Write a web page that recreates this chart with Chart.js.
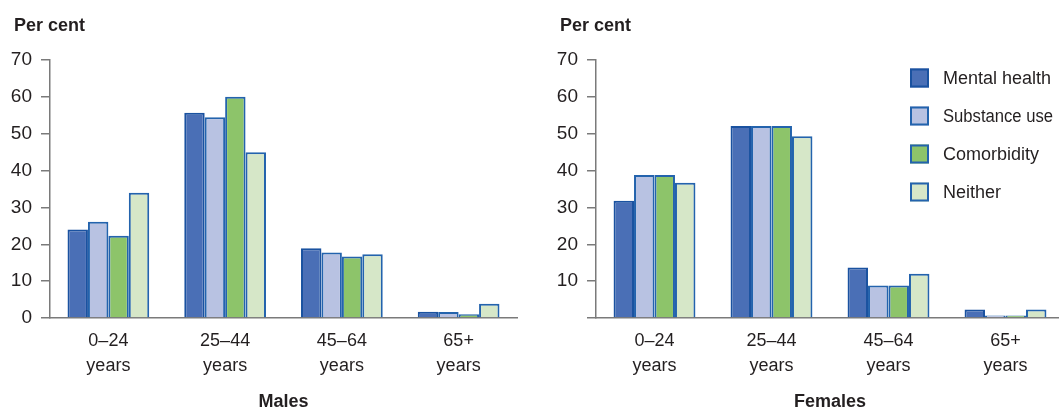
<!DOCTYPE html>
<html>
<head>
<meta charset="utf-8">
<script src="https://cdn.jsdelivr.net/npm/chart.js@4"></script>
<style>
  html, body { margin: 0; padding: 0; background: #fff; overflow: hidden; }
  #wrap { position: relative; width: 1059px; height: 409px; overflow: hidden; }
  #males { position: absolute; left: 0; top: 0; }
  #females { position: absolute; left: 530px; top: 0; }
</style>
</head>
<body>
<div id="wrap">
  <canvas id="males" width="530" height="409"></canvas>
  <canvas id="females" width="534" height="409"></canvas>
</div>
<script>
const categories = [['0–24', 'years'], ['25–44', 'years'], ['45–64', 'years'], ['65+', 'years']];
const seriesNames = ['Mental health', 'Substance use', 'Comorbidity', 'Neither'];

const malesMental = [24, 55.7, 18.9, 1.7];
const malesSubstance = [26.1, 54.5, 17.8, 1.6];
const malesComorbid = [22.3, 60, 16.7, 1];
const malesNeither = [34, 45, 17.3, 3.9];

const femalesMental = [31.8, 52.1, 13.7, 2.3];
const femalesSubstance = [38.8, 52.1, 8.8, 0.7];
const femalesComorbid = [38.8, 52.1, 8.8, 0.7];
const femalesNeither = [36.7, 49.3, 12, 2.3];

const yTicks = [0, 10, 20, 30, 40, 50, 60, 70];

const fillColors = ['#4a6fb6', '#b8c2e2', '#8dc46a', '#d6e7c8'];
const borderColors = ['#1a52a0', '#2363ad', '#2363ad', '#2363ad'];
const FONT = "'Liberation Sans Narrow', 'Liberation Sans', Arial, sans-serif";
const axisColor = '#7a7a7a';
const textColor = '#231f20';

function makeDatasets(rows) {
    return rows.map((data, i) => ({
        label: seriesNames[i],
        data: data,
        backgroundColor: fillColors[i],
        borderColor: borderColors[i],
        borderWidth: 2,
        borderSkipped: 'start',
        barPercentage: 1,
        categoryPercentage: 0.7
    }));
}

// "Per cent" label above the axis and the stacked legend on the right
const extras = {
    id: 'extras',
    afterDraw(chart, args, opts) {
        const ctx = chart.ctx;
        ctx.save();
        ctx.fillStyle = textColor;
        ctx.font = 'bold 18px ' + FONT;
        ctx.textBaseline = 'alphabetic';
        ctx.fillText('Per cent', opts.titleX, 31);

        if (opts.legend) {
            const items = chart.legend.legendItems;
            ctx.font = '18px ' + FONT;
            ctx.textBaseline = 'middle';
            items.forEach((item, i) => {
                const y = opts.legend.top + i * opts.legend.gap;
                ctx.fillStyle = item.fillStyle;
                ctx.fillRect(opts.legend.left, y - 9.5, 19, 19);
                ctx.strokeStyle = item.strokeStyle;
                ctx.lineWidth = 2;
                ctx.strokeRect(opts.legend.left + 1, y - 8.5, 17, 17);
                ctx.fillStyle = textColor;
                ctx.fillText(item.text, opts.legend.left + 33, y + 1, 110);
            });
        }
        ctx.restore();
    }
};

function makeChart(id, rows, title, leftWidth, rightPad, showZero, extraOpts) {
    return new Chart(document.getElementById(id), {
        type: 'bar',
        data: { labels: categories, datasets: makeDatasets(rows) },
        options: {
            responsive: false,
            animation: false,
            layout: { padding: { top: 60, right: rightPad, bottom: 0, left: 0 } },
            plugins: {
                legend: { display: false },
                tooltip: { enabled: false },
                extras: extraOpts
            },
            scales: {
                x: {
                    grid: { display: false },
                    border: { display: true, color: axisColor, width: 1.5 },
                    afterFit: (scale) => { scale.height = 91; },
                    ticks: {
                        color: textColor,
                        font: { family: FONT, size: 18, lineHeight: 1.39 },
                        padding: 3,
                        maxRotation: 0
                    },
                    title: {
                        display: true,
                        text: title,
                        color: textColor,
                        font: { family: FONT, size: 18, weight: 'bold', lineHeight: 1 },
                        padding: { top: 0, bottom: -2 }
                    }
                },
                y: {
                    min: 0,
                    max: 70,
                    afterBuildTicks: (scale) => { scale.ticks = yTicks.map(v => ({ value: v })); },
                    afterFit: (scale) => { scale.width = leftWidth; },
                    grid: { drawOnChartArea: false, tickLength: 9, color: axisColor, lineWidth: 1.5 },
                    border: { display: true, color: axisColor, width: 1.5 },
                    ticks: {
                        color: textColor,
                        font: { family: FONT, size: 19 },
                        padding: 9,
                        callback: (v) => (v === 0 && !showZero) ? '' : v
                    }
                }
            }
        },
        plugins: [extras]
    });
}

makeChart('males', [malesMental, malesSubstance, malesComorbid, malesNeither], 'Males', 50, 13, true,
    { titleX: 14, legend: null });
makeChart('females', [femalesMental, femalesSubstance, femalesComorbid, femalesNeither], 'Females', 66, 0, false,
    { titleX: 30, legend: { left: 380, top: 78, gap: 38 } });
</script>
</body>
</html>
